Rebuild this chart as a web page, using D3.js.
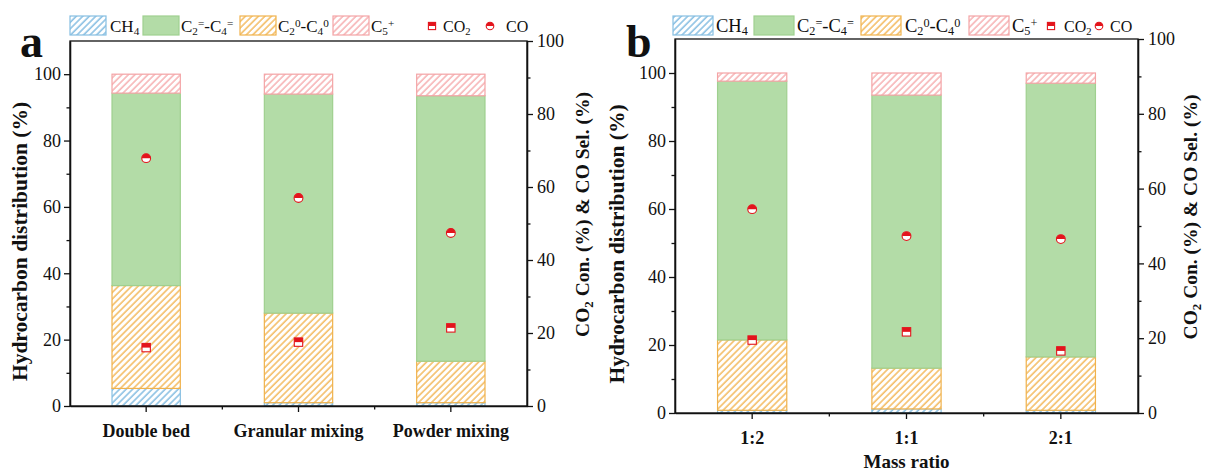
<!DOCTYPE html>
<html>
<head>
<meta charset="utf-8">
<script src="https://cdn.jsdelivr.net/npm/d3@7"></script>
<style>
  body { margin: 0; background: #fff; }
  svg { display: block; }
  text { font-family: "Liberation Serif", "Times New Roman", serif; fill: #111; }
</style>
</head>
<body>
<svg id="chart" width="1211" height="471"></svg>
<script>
// Panel a: catalyst arrangement
const categoriesA = ["Double bed", "Granular mixing", "Powder mixing"];
const ch4A      = [5.3, 1.0, 1.0];
const paraffinA = [31.0, 27.0, 12.5];
const olefinA   = [58.0, 66.0, 80.0];
const c5A       = [5.7, 6.0, 6.5];
const co2A      = [16.0, 17.5, 21.4];
const coA       = [67.9, 57.0, 47.4];

// Panel b: mass ratio
const categoriesB = ["1:2", "1:1", "2:1"];
const ch4B      = [0.8, 1.2, 0.8];
const paraffinB = [20.7, 12.0, 15.7];
const olefinB   = [76.1, 80.3, 80.5];
const c5B       = [2.4, 6.5, 3.0];
const co2B      = [19.5, 21.7, 16.6];
const coB       = [54.5, 47.3, 46.5];

const leftTicks  = [0, 20, 40, 60, 80, 100];
const leftMinor  = [10, 30, 50, 70, 90];
const rightTicks = [0, 20, 40, 60, 80, 100];
const rightMinor = [10, 30, 50, 70, 90];

const RED = "#e3141c";

const svg = d3.select("#chart");
const defs = svg.append("defs");

function hatch(id, color) {
  const s = 4.6;
  const p = defs.append("pattern")
    .attr("id", id)
    .attr("patternUnits", "userSpaceOnUse")
    .attr("width", s).attr("height", s)
    .attr("patternTransform", "rotate(45)");
  p.append("rect").attr("width", s).attr("height", s).attr("fill", "#fff");
  p.append("line").attr("x1", 1).attr("x2", 1).attr("y1", 0).attr("y2", s)
    .attr("stroke", color).attr("stroke-width", 1.4);
}
hatch("hatch-blue", "#7cb9e0");
hatch("hatch-orange", "#f2b553");
hatch("hatch-pink", "#f6aaac");

// stacking order, bottom to top
const seriesStyle = {
  ch4:      { fill: "url(#hatch-blue)",   stroke: "#86bfe2" },
  paraffin: { fill: "url(#hatch-orange)", stroke: "#f0b24c" },
  olefin:   { fill: "#b3dca7",            stroke: "#9fd08f" },
  c5:       { fill: "url(#hatch-pink)",   stroke: "#f4a4a6" }
};
const stackKeys = ["ch4", "paraffin", "olefin", "c5"];

// legend order and labels
const legendKeys = ["ch4", "olefin", "paraffin", "c5"];
const legendLabels = {
  ch4:      [["CH", null], ["4", "sub"]],
  olefin:   [["C", null], ["2", "sub"], ["=", "sup"], ["-C", null], ["4", "sub"], ["=", "sup"]],
  paraffin: [["C", null], ["2", "sub"], ["0", "sup"], ["-C", null], ["4", "sub"], ["0", "sup"]],
  c5:       [["C", null], ["5", "sub"], ["+", "sup"]]
};

function marker(g, cx, cy, shape, r) {
  if (shape === "square") {
    g.append("rect").attr("x", cx - r).attr("y", cy - r).attr("width", 2 * r).attr("height", 2 * r)
      .attr("fill", "#fff").attr("stroke", RED).attr("stroke-width", 1.1);
    g.append("rect").attr("x", cx - r).attr("y", cy - r).attr("width", 2 * r).attr("height", r)
      .attr("fill", RED);
  } else {
    g.append("circle").attr("cx", cx).attr("cy", cy).attr("r", r)
      .attr("fill", "#fff").attr("stroke", RED).attr("stroke-width", 1.1);
    g.append("path")
      .attr("d", `M${cx - r},${cy} A${r},${r} 0 0 1 ${cx + r},${cy} Z`)
      .attr("fill", RED);
  }
}

// text with sub/superscript pieces: [text, "sub"|"sup"|null]
function richText(sel, parts, size) {
  parts.forEach(([t, mode]) => {
    const ts = sel.append("tspan").text(t);
    if (mode === "sub") ts.attr("font-size", size * 0.66).attr("baseline-shift", "-28%");
    else if (mode === "sup") ts.attr("font-size", size * 0.66).attr("baseline-shift", "42%");
  });
}

function styleAxisText(g, size, weight) {
  g.selectAll("text")
    .attr("font-size", size)
    .attr("font-weight", weight)
    .attr("font-family", "'Liberation Serif', 'Times New Roman', serif")
    .attr("fill", "#111");
  g.selectAll("path, line").attr("stroke", "#111").attr("stroke-width", 1.3);
}

function drawPanel(cfg) {
  const g = svg.append("g");
  const { x0, x1, yTop, yBot } = cfg;

  const x = d3.scaleBand().domain(cfg.categories).range([x0, x1])
    .paddingInner(0.545).paddingOuter(0.2725);
  const y = d3.scaleLinear().domain([0, 110]).range([yBot, yTop]);
  const yR = d3.scaleLinear().domain([0, 100]).range([yBot, yTop]);

  const rows = cfg.categories.map((c, i) => ({
    cat: c, ch4: cfg.ch4[i], paraffin: cfg.paraffin[i], olefin: cfg.olefin[i], c5: cfg.c5[i]
  }));
  const stacked = d3.stack().keys(stackKeys)(rows);

  stacked.forEach(layer => {
    const st = seriesStyle[layer.key];
    g.append("g").selectAll("rect").data(layer).join("rect")
      .attr("x", d => x(d.data.cat) + 0.5)
      .attr("width", x.bandwidth() - 1)
      .attr("y", d => y(d[1]))
      .attr("height", d => Math.max(0, y(d[0]) - y(d[1])))
      .attr("fill", st.fill)
      .attr("stroke", st.stroke)
      .attr("stroke-width", 1.2);
  });

  // frame
  g.append("rect").attr("x", x0).attr("y", yTop).attr("width", x1 - x0).attr("height", yBot - yTop)
    .attr("fill", "none").attr("stroke", "#111").attr("stroke-width", 1.3);

  // left axis
  const la = g.append("g").attr("transform", `translate(${x0},0)`)
    .call(d3.axisLeft(y).tickValues(leftTicks).tickSize(6).tickSizeOuter(0).tickPadding(3));
  styleAxisText(la, 18, "normal");
  const lm = g.append("g").attr("transform", `translate(${x0},0)`)
    .call(d3.axisLeft(y).tickValues(leftMinor).tickSize(3.5).tickSizeOuter(0).tickFormat(""));
  styleAxisText(lm, 18, "normal");

  // right axis
  const ra = g.append("g").attr("transform", `translate(${x1},0)`)
    .call(d3.axisRight(yR).tickValues(rightTicks).tickSize(6).tickSizeOuter(0).tickPadding(4));
  styleAxisText(ra, 18, "normal");
  const rm = g.append("g").attr("transform", `translate(${x1},0)`)
    .call(d3.axisRight(yR).tickValues(rightMinor).tickSize(3.5).tickSizeOuter(0).tickFormat(""));
  styleAxisText(rm, 18, "normal");

  // bottom axis
  const ba = g.append("g").attr("transform", `translate(0,${yBot})`)
    .call(d3.axisBottom(x).tickSize(6).tickSizeOuter(0).tickPadding(cfg.xPad));
  styleAxisText(ba, 18, "bold");
  const boundaries = d3.range(1, cfg.categories.length).map(i => x0 + i * x.step());
  g.append("g").selectAll("line").data(boundaries).join("line")
    .attr("x1", d => d).attr("x2", d => d)
    .attr("y1", yBot).attr("y2", yBot + 3.5)
    .attr("stroke", "#111").attr("stroke-width", 1.3);

  // conversion / selectivity markers
  const mg = g.append("g");
  cfg.categories.forEach((c, i) => {
    const cx = x(c) + x.bandwidth() / 2;
    marker(mg, cx, yR(cfg.co2[i]), "square", 4.2);
    marker(mg, cx, yR(cfg.co[i]), "circle", 4.4);
  });

  // axis titles
  g.append("text")
    .attr("transform", `translate(${cfg.leftTitleX},${(yTop + yBot) / 2 + 18}) rotate(-90)`)
    .attr("text-anchor", "middle").attr("font-size", 21.5).attr("font-weight", "bold")
    .text("Hydrocarbon distribution (%)");
  const rt = g.append("text")
    .attr("transform", `translate(${cfg.rightTitleX},${(yTop + yBot) / 2 - 9}) rotate(-90)`)
    .attr("text-anchor", "middle").attr("font-size", 19.5).attr("font-weight", "bold");
  richText(rt, [["CO", null], ["2", "sub"], [" Con. (%) & CO Sel. (%)", null]], 19.5);

  if (cfg.xTitle) {
    g.append("text").attr("x", (x0 + x1) / 2).attr("y", cfg.xTitleY)
      .attr("text-anchor", "middle").attr("font-size", 19).attr("font-weight", "bold")
      .text(cfg.xTitle);
  }

  // panel letter
  g.append("text").attr("x", cfg.letterX).attr("y", 57)
    .attr("font-size", 46).attr("font-weight", "bold").text(cfg.letter);

  // legend
  const lg = g.append("g");
  const L = cfg.legend;
  const sy = 16, sh = 19, ty = 32;
  legendKeys.forEach((k, i) => {
    const st = seriesStyle[k];
    lg.append("rect").attr("x", L.sw[i]).attr("y", sy).attr("width", L.swW).attr("height", sh)
      .attr("fill", st.fill).attr("stroke", st.stroke).attr("stroke-width", 1.2);
    const t = lg.append("text").attr("x", L.tx[i]).attr("y", ty).attr("font-size", L.fs);
    richText(t, legendLabels[k], L.fs);
  });
  marker(lg, L.co2M, 26, "square", 3.6);
  const t1 = lg.append("text").attr("x", L.co2T).attr("y", ty).attr("font-size", 16);
  richText(t1, [["CO", null], ["2", "sub"]], 16);
  marker(lg, L.coM, 26, "circle", 3.8);
  lg.append("text").attr("x", L.coT).attr("y", ty).attr("font-size", 16).text("CO");
}

drawPanel({
  categories: categoriesA, ch4: ch4A, paraffin: paraffinA, olefin: olefinA, c5: c5A,
  co2: co2A, co: coA,
  x0: 70, x1: 527, yTop: 41, yBot: 406, xPad: 12,
  leftTitleX: 27, rightTitleX: 589,
  letter: "a", letterX: 20,
  legend: { sw: [70, 143, 240, 333], swW: 36, tx: [110, 181, 278, 371], fs: 17,
            co2M: 432, co2T: 443, coM: 490, coT: 506 }
});

drawPanel({
  categories: categoriesB, ch4: ch4B, paraffin: paraffinB, olefin: olefinB, c5: c5B,
  co2: co2B, co: coB,
  x0: 675, x1: 1138, yTop: 39, yBot: 413, xPad: 12,
  leftTitleX: 624, rightTitleX: 1197,
  xTitle: "Mass ratio", xTitleY: 468,
  letter: "b", letterX: 626,
  legend: { sw: [673, 754, 861, 969], swW: 40, tx: [716, 797, 905, 1012], fs: 18.5,
            co2M: 1051, co2T: 1064, coM: 1099, coT: 1110 }
});
</script>
</body>
</html>
